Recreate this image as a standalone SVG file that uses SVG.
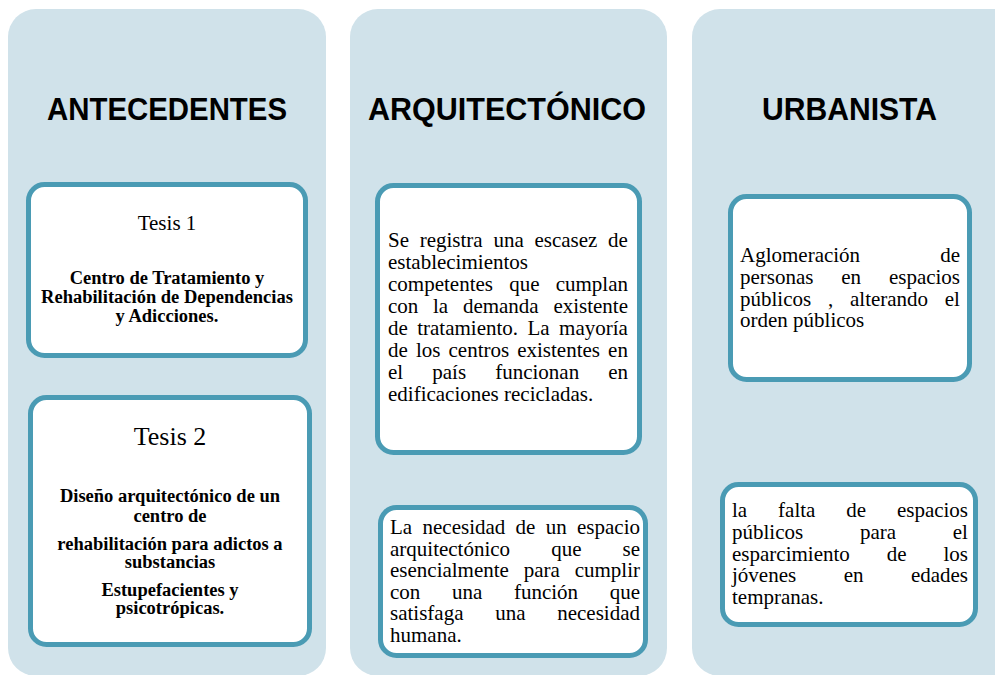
<svg xmlns="http://www.w3.org/2000/svg" width="995" height="675" viewBox="0 0 995 675">
<style>
.col{fill:#d0e2ea;}
.box{fill:#ffffff;stroke:#4a9bb4;stroke-width:5;}
.title{font-family:"Liberation Sans",Arial,sans-serif;font-weight:bold;font-size:32px;fill:#000;text-anchor:middle;}
.t{font-family:"Liberation Serif","Times New Roman",serif;font-size:21px;fill:#000;}
.b{font-family:"Liberation Serif","Times New Roman",serif;font-size:18.5px;font-weight:bold;fill:#000;text-anchor:middle;}
.c{text-anchor:middle;}
</style>
<rect width="995" height="675" fill="#ffffff"/>
<g id="columns">
<g id="col-antecedentes">
<rect class="col" x="8" y="9" width="318" height="667" rx="28"/>
<text class="title" x="167" y="120" textLength="240" lengthAdjust="spacingAndGlyphs">ANTECEDENTES</text>
</g>
<g id="col-arquitectonico">
<rect class="col" x="350" y="9" width="317" height="667" rx="28"/>
<text class="title" x="507" y="120" textLength="278" lengthAdjust="spacingAndGlyphs">ARQUITECTÓNICO</text>
</g>
<g id="col-urbanista">
<rect class="col" x="692" y="9" width="330" height="667" rx="28"/>
<text class="title" x="849.5" y="120" textLength="175" lengthAdjust="spacingAndGlyphs">URBANISTA</text>
</g>
</g>
<g id="connectors"></g>
<g id="tesis1">
<rect class="box" x="28.5" y="184.5" width="277" height="171" rx="16"/>
<text class="t c" x="167" y="230">Tesis 1</text>
<text class="b" x="167" y="284">Centro de Tratamiento y</text>
<text class="b" x="167" y="303">Rehabilitación de Dependencias</text>
<text class="b" x="167" y="322">y Adicciones.</text>
</g>
<g id="tesis2">
<rect class="box" x="30.5" y="397.5" width="279" height="247" rx="16"/>
<text class="t c" x="170" y="445" style="font-size:26px">Tesis 2</text>
<text class="b" x="170" y="502">Diseño arquitectónico de un</text>
<text class="b" x="170" y="522">centro de</text>
<text class="b" x="170" y="550">rehabilitación para adictos a</text>
<text class="b" x="170" y="568">substancias</text>
<text class="b" x="170" y="596">Estupefacientes y</text>
<text class="b" x="170" y="614">psicotrópicas.</text>
</g>
<g id="arq-escasez">
<rect class="box" x="377.5" y="185.5" width="262" height="267" rx="16"/>
<text class="t" y="247"><tspan x="388">Se</tspan><tspan x="419.7">registra</tspan><tspan x="493.4">una</tspan><tspan x="534.4">escasez</tspan><tspan x="608.1">de</tspan></text>
<text class="t" x="388" y="269">establecimientos</text>
<text class="t" y="291"><tspan x="388">competentes</tspan><tspan x="509.2">que</tspan><tspan x="555.7">cumplan</tspan></text>
<text class="t" y="313"><tspan x="388">con</tspan><tspan x="433">la</tspan><tspan x="462.9">demanda</tspan><tspan x="553.4">existente</tspan></text>
<text class="t" y="335"><tspan x="388">de</tspan><tspan x="417.2">tratamiento.</tspan><tspan x="527.5">La</tspan><tspan x="559.1">mayoría</tspan></text>
<text class="t" y="357"><tspan x="388">de</tspan><tspan x="415.9">los</tspan><tspan x="448.5">centros</tspan><tspan x="517.2">existentes</tspan><tspan x="608.1">en</tspan></text>
<text class="t" y="379"><tspan x="388">el</tspan><tspan x="432.3">país</tspan><tspan x="495.2">funcionan</tspan><tspan x="608.2">en</tspan></text>
<text class="t" x="388" y="401">edificaciones recicladas.</text>
</g>
<g id="arq-necesidad">
<rect class="box" x="380.5" y="507.5" width="265" height="148" rx="16"/>
<text class="t" y="534"><tspan x="390">La</tspan><tspan x="422.5">necesidad</tspan><tspan x="515.6">de</tspan><tspan x="545.7">un</tspan><tspan x="577">espacio</tspan></text>
<text class="t" y="555.6"><tspan x="390">arquitectónico</tspan><tspan x="551.2">que</tspan><tspan x="622.5">se</tspan></text>
<text class="t" y="577.2"><tspan x="390">esencialmente</tspan><tspan x="523.8">para</tspan><tspan x="574.7">cumplir</tspan></text>
<text class="t" y="598.8"><tspan x="390">con</tspan><tspan x="452">una</tspan><tspan x="513.9">función</tspan><tspan x="609.7">que</tspan></text>
<text class="t" y="620.4"><tspan x="390">satisfaga</tspan><tspan x="495.2">una</tspan><tspan x="557.2">necesidad</tspan></text>
<text class="t" x="390" y="642">humana.</text>
</g>
<g id="urb-aglomeracion">
<rect class="box" x="730.5" y="196.5" width="239" height="183" rx="16"/>
<text class="t" y="262"><tspan x="740">Aglomeración</tspan><tspan x="940.2">de</tspan></text>
<text class="t" y="284"><tspan x="740">personas</tspan><tspan x="841.3">en</tspan><tspan x="888.9">espacios</tspan></text>
<text class="t" y="305.5"><tspan x="740">públicos</tspan><tspan x="828">,</tspan><tspan x="850">alterando</tspan><tspan x="944.8">el</tspan></text>
<text class="t" x="740" y="327">orden públicos</text>
</g>
<g id="urb-falta">
<rect class="box" x="722.5" y="484.5" width="253" height="140" rx="16"/>
<text class="t" y="517"><tspan x="732">la</tspan><tspan x="778.1">falta</tspan><tspan x="846.2">de</tspan><tspan x="896.9">espacios</tspan></text>
<text class="t" y="539"><tspan x="732">públicos</tspan><tspan x="860">para</tspan><tspan x="952.8">el</tspan></text>
<text class="t" y="560.5"><tspan x="732">esparcimiento</tspan><tspan x="886.8">de</tspan><tspan x="943.5">los</tspan></text>
<text class="t" y="582"><tspan x="732">jóvenes</tspan><tspan x="843.7">en</tspan><tspan x="910.9">edades</tspan></text>
<text class="t" x="732" y="604">tempranas.</text>
</g>
</svg>
